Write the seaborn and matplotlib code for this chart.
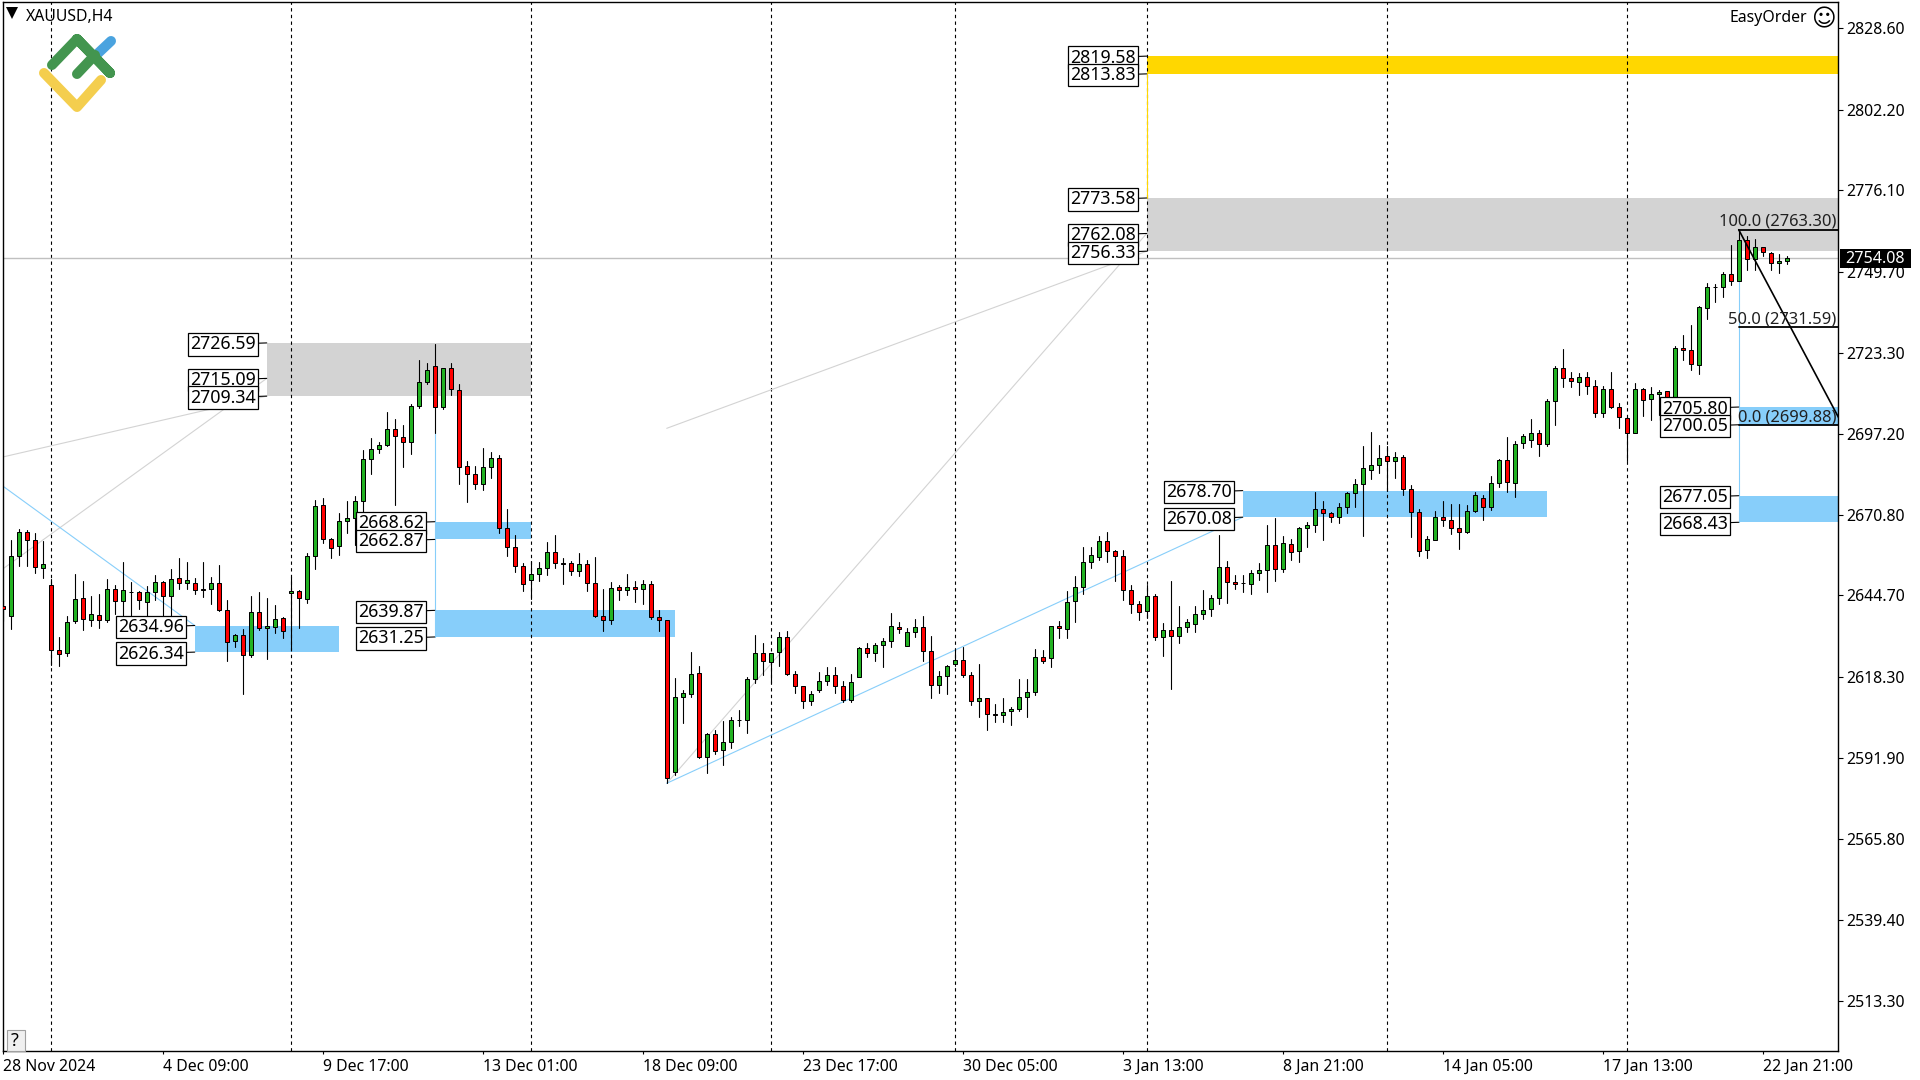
import matplotlib
matplotlib.use("Agg")
import matplotlib.pyplot as plt
import matplotlib.transforms as mtrans
import pandas as pd
import seaborn as sns
from matplotlib.patches import Rectangle

highs = [2643.3,2662.8,2666.3,2666.0,2665.0,2662.5,2650.1,2631.1,2637.9,2651.8,
2649.5,2644.4,2645.2,2650.2,2648.0,2655.6,2649.2,2646.3,2647.7,2651.5,
2649.4,2653.3,2656.9,2655.6,2650.4,2655.6,2650.7,2654.6,2643.3,2632.3,
2633.9,2644.6,2645.9,2643.9,2641.7,2637.7,2650.7,2646.5,2658.5,2675.5,
2676.4,2663.4,2671.5,2675.4,2677.1,2691.9,2695.6,2694.5,2704.3,2702.0,
2700.0,2706.8,2721.1,2720.1,2726.1,2718.5,2720.1,2713.3,2688.3,2686.7,
2692.5,2691.3,2690.2,2672.7,2664.3,2655.2,2655.9,2655.5,2662.1,2664.3,
2656.8,2655.9,2658.5,2656.2,2657.3,2646.8,2649.0,2648.1,2651.8,2649.4,
2649.7,2649.4,2640.0,2636.7,2617.9,2614.0,2626.4,2621.8,2600.1,2601.1,
2604.0,2605.3,2607.5,2618.2,2631.9,2629.3,2626.0,2632.8,2633.2,2620.2,
2615.3,2613.7,2619.9,2621.5,2621.5,2617.0,2619.2,2628.0,2629.3,2629.3,
2630.9,2639.0,2636.1,2634.1,2637.1,2638.0,2631.5,2620.2,2622.1,2627.3,
2628.0,2619.9,2622.5,2611.5,2609.5,2611.5,2608.6,2617.7,2617.7,2627.4,
2627.1,2634.8,2636.5,2646.2,2651.0,2660.5,2660.5,2664.0,2665.3,2659.5,
2659.5,2648.1,2643.0,2648.1,2645.2,2635.8,2649.4,2641.3,2637.1,2641.3,
2646.5,2644.9,2664.3,2655.9,2651.4,2651.4,2653.0,2655.3,2667.6,2669.9,
2664.0,2663.0,2666.9,2668.6,2678.3,2675.4,2671.8,2674.7,2678.3,2682.5,
2693.2,2697.7,2693.5,2693.2,2691.3,2690.3,2680.6,2672.8,2664.0,2672.1,
2675.3,2674.4,2674.4,2674.0,2678.2,2677.3,2683.4,2689.0,2696.1,2694.8,
2697.1,2701.9,2698.4,2708.4,2719.1,2724.6,2717.2,2716.8,2717.2,2714.6,
2712.6,2717.2,2707.1,2702.6,2713.6,2712.0,2712.3,2711.3,2711.0,2725.6,
2729.2,2732.4,2738.6,2746.0,2745.7,2749.6,2758.3,2763.3,2761.3,2760.3,
2757.7,2756.1,2755.4,2754.8]

lows = [2636.4,2633.8,2654.4,2654.4,2651.9,2650.3,2622.1,2621.8,2625.0,2635.8,
2633.4,2634.9,2634.1,2636.1,2638.7,2637.7,2636.0,2640.3,2637.7,2643.3,
2636.6,2637.7,2646.7,2646.7,2645.1,2644.1,2641.9,2639.7,2623.4,2627.9,
2612.7,2624.8,2633.6,2624.0,2632.5,2630.9,2627.1,2634.3,2642.3,2653.2,
2661.8,2656.8,2657.7,2665.1,2661.1,2669.0,2684.1,2690.8,2693.2,2674.0,
2686.3,2690.6,2705.5,2713.3,2697.3,2705.2,2709.6,2680.9,2675.0,2679.3,
2678.8,2682.9,2664.8,2657.4,2652.2,2646.0,2643.4,2649.3,2651.5,2653.5,
2648.3,2651.2,2650.9,2646.3,2637.8,2633.1,2635.6,2643.1,2644.7,2642.5,
2641.8,2637.1,2633.1,2583.8,2586.4,2603.2,2611.7,2591.9,2587.0,2593.2,
2589.6,2595.4,2602.3,2600.0,2616.2,2619.0,2616.2,2621.9,2618.9,2613.0,
2608.1,2609.1,2613.3,2615.7,2613.0,2610.2,2610.2,2618.2,2624.6,2623.4,
2621.4,2627.9,2632.5,2628.2,2631.2,2623.4,2611.4,2613.0,2612.6,2621.8,
2618.2,2609.1,2605.2,2601.1,2603.6,2603.6,2602.6,2607.3,2605.2,2612.4,
2622.8,2621.4,2630.8,2630.8,2636.0,2645.1,2653.5,2656.1,2655.5,2649.5,
2643.2,2639.0,2636.8,2637.4,2630.2,2625.0,2614.3,2629.2,2632.8,2632.8,
2637.0,2638.1,2641.9,2642.2,2646.7,2645.8,2645.1,2649.6,2645.8,2649.3,
2652.2,2656.2,2655.5,2660.3,2665.3,2662.7,2668.6,2668.2,2671.5,2673.3,
2664.0,2682.5,2684.3,2678.6,2682.9,2677.3,2663.6,2657.5,2656.8,2662.7,
2667.1,2664.6,2659.8,2665.0,2671.8,2669.1,2672.4,2679.8,2678.2,2676.6,
2692.5,2692.7,2689.9,2693.2,2700.0,2712.3,2712.3,2709.7,2710.0,2702.6,
2702.6,2705.5,2699.0,2688.3,2697.4,2702.9,2701.6,2703.2,2703.2,2702.9,
2721.0,2717.8,2716.5,2734.2,2739.7,2741.4,2745.4,2746.7,2750.2,2750.2,
2754.8,2750.2,2749.3,2752.2]

opens = [2641.4,2638.1,2657.5,2665.3,2662.7,2653.6,2648.1,2627.1,2626.1,2636.5,
2643.9,2636.8,2638.4,2636.8,2646.8,2643.0,2645.9,2645.9,2642.6,2645.9,
2649.1,2644.6,2650.4,2648.8,2648.8,2646.8,2646.8,2648.8,2640.0,2630.0,
2631.9,2625.4,2639.4,2634.2,2634.5,2637.4,2645.5,2646.2,2643.6,2657.5,
2674.1,2663.1,2660.8,2668.9,2669.9,2675.4,2689.0,2692.2,2693.5,2698.7,
2696.1,2694.5,2706.2,2714.0,2719.2,2705.9,2718.5,2711.4,2686.7,2684.0,
2680.8,2686.3,2689.3,2666.6,2660.4,2654.2,2649.7,2651.6,2653.6,2658.8,
2655.2,2655.2,2652.6,2654.9,2648.7,2638.0,2636.7,2647.4,2646.5,2647.4,
2646.8,2648.4,2637.7,2636.7,2587.4,2611.8,2612.7,2619.5,2592.3,2599.8,
2594.6,2597.2,2604.2,2604.3,2617.6,2626.0,2623.1,2626.4,2631.2,2619.2,
2615.3,2610.5,2614.0,2617.0,2618.9,2615.3,2610.8,2618.2,2627.6,2626.0,
2628.6,2629.9,2634.5,2628.3,2632.8,2634.5,2626.7,2615.7,2618.6,2622.5,
2623.8,2619.0,2610.5,2611.5,2606.3,2606.0,2607.3,2607.9,2611.8,2613.4,
2624.8,2624.5,2634.8,2633.9,2643.0,2647.5,2655.6,2657.2,2662.4,2659.2,
2657.5,2646.5,2642.0,2639.7,2644.6,2631.3,2633.5,2631.6,2634.5,2635.5,
2638.7,2640.3,2643.9,2654.0,2649.1,2648.7,2648.5,2652.0,2653.0,2661.1,
2653.3,2661.4,2659.2,2666.6,2667.6,2672.8,2671.5,2670.2,2673.4,2678.0,
2680.9,2685.4,2687.0,2690.0,2688.3,2689.6,2679.3,2671.8,2659.5,2662.7,
2670.1,2669.2,2666.6,2665.3,2672.1,2676.3,2673.4,2681.2,2688.6,2681.2,
2694.1,2695.1,2697.4,2693.8,2707.8,2718.5,2715.2,2713.9,2715.5,2712.6,
2703.9,2711.6,2705.8,2702.2,2697.4,2711.6,2708.4,2710.0,2711.0,2708.4,
2724.9,2724.3,2719.4,2737.9,2744.6,2744.7,2748.9,2746.7,2760.0,2753.8,
2757.7,2755.7,2752.5,2753.1]

closes = [2640.3,2657.5,2665.3,2662.7,2654.0,2655.0,2627.1,2625.7,2636.1,2643.6,
2637.1,2638.7,2636.8,2646.8,2643.0,2646.5,2645.8,2643.3,2645.9,2649.1,
2644.6,2650.1,2648.8,2649.8,2646.5,2646.6,2648.8,2640.0,2629.7,2631.9,
2625.4,2639.4,2634.2,2634.9,2637.1,2633.2,2646.2,2643.9,2657.5,2673.8,
2663.1,2660.0,2668.9,2669.9,2675.4,2689.0,2692.2,2693.5,2698.7,2696.5,
2694.5,2706.2,2714.0,2717.9,2705.9,2718.5,2711.7,2686.4,2684.1,2680.9,
2686.3,2689.3,2666.6,2660.4,2654.2,2648.4,2651.6,2653.6,2658.8,2655.2,
2654.9,2652.6,2654.9,2648.7,2638.0,2636.7,2647.1,2646.5,2647.4,2646.8,
2648.4,2637.7,2636.7,2585.5,2611.8,2613.1,2619.2,2592.2,2599.8,2594.3,
2597.2,2604.3,2604.3,2617.6,2626.0,2623.4,2626.0,2631.2,2619.2,2615.3,
2610.5,2612.7,2617.0,2618.9,2615.3,2610.8,2616.6,2627.6,2626.0,2628.6,
2629.9,2634.8,2633.8,2632.8,2634.5,2626.7,2615.7,2618.6,2621.8,2623.8,
2619.0,2610.5,2611.5,2606.3,2606.0,2607.0,2607.9,2611.8,2613.4,2624.8,
2623.5,2634.8,2634.2,2642.6,2647.5,2655.6,2657.9,2662.4,2659.2,2657.5,
2646.5,2642.0,2639.4,2644.6,2631.3,2633.5,2631.6,2634.5,2636.1,2638.7,
2640.0,2643.9,2654.0,2649.1,2648.3,2648.8,2652.0,2653.0,2661.1,2653.3,
2661.7,2658.8,2666.6,2667.6,2672.8,2671.5,2670.2,2673.4,2678.0,2680.9,
2686.1,2687.0,2689.3,2688.3,2689.6,2679.3,2671.8,2659.2,2663.0,2670.2,
2669.2,2666.6,2665.3,2672.1,2677.3,2673.4,2681.2,2688.6,2681.5,2693.8,
2696.4,2697.4,2693.8,2707.8,2718.5,2715.2,2714.2,2715.5,2712.6,2703.9,
2711.6,2705.8,2702.6,2697.4,2711.6,2708.1,2710.0,2710.7,2707.8,2724.9,
2724.2,2719.8,2738.2,2744.7,2744.7,2748.9,2746.7,2760.0,2753.8,2757.7,
2756.1,2752.5,2753.1,2754.08]

y_ticks = [2828.60, 2802.20, 2776.10, 2749.70, 2723.30, 2697.20, 2670.80,
           2644.70, 2618.30, 2591.90, 2565.80, 2539.40, 2513.30]
date_labels = ["28 Nov 2024", "4 Dec 09:00", "9 Dec 17:00", "13 Dec 01:00", "18 Dec 09:00",
               "23 Dec 17:00", "30 Dec 05:00", "3 Jan 13:00", "8 Jan 21:00", "14 Jan 05:00",
               "17 Jan 13:00", "22 Jan 21:00"]
separators = [6, 36, 66, 96, 119, 143, 173, 203]
last_price = 2754.08

# zones: start bar, end bar, top, bottom, colour
zone_start = [24, 54, 54, 155, 217, 217, 33, 143, 143]
zone_end = [42, 66, 84, 193, 230, 230, 66, 230, 230]
zone_top = [2634.96, 2668.62, 2639.87, 2678.70, 2705.80, 2677.05, 2726.59, 2773.58, 2819.58]
zone_bottom = [2626.34, 2662.87, 2631.25, 2670.08, 2700.05, 2668.43, 2709.34, 2756.33, 2813.83]
zone_color = ["#87CEFA"] * 6 + ["#D3D3D3", "#D3D3D3", "#FFD700"]

# boxed price labels next to the zones
label_bar = [24, 24, 54, 54, 54, 54, 155, 155, 217, 217, 217, 217, 33, 33, 33, 143, 143, 143, 143, 143]
label_price = [2634.96, 2626.34, 2668.62, 2662.87, 2639.87, 2631.25, 2678.70, 2670.08,
               2705.80, 2700.05, 2677.05, 2668.43, 2726.59, 2715.09, 2709.34,
               2819.58, 2813.83, 2773.58, 2762.08, 2756.33]

fib_bar = 217
fib_levels = [2763.30, 2731.59, 2699.88]
fib_names = ["100.0", "50.0", "0.0"]

plt.rcParams["figure.dpi"] = 100
sns.set_style("white")
plt.rcParams["font.family"] = ["Noto Sans", "DejaVu Sans"]

df = pd.DataFrame({"bar": range(len(opens)), "open": opens, "high": highs, "low": lows, "close": closes})
df["height"] = (df["close"] - df["open"]).abs()
df["body_bottom"] = df[["open", "close"]].min(axis=1)
wicks = df.melt(id_vars="bar", value_vars=["high", "low"], value_name="price")

fig = plt.figure(figsize=(19.2, 10.8), facecolor="white")
ax = fig.add_axes([2.5 / 1920, 29 / 1080, 1835.8 / 1920, 1049 / 1080])

for s, e, t, b, c in zip(zone_start, zone_end, zone_top, zone_bottom, zone_color):
    ax.add_patch(Rectangle((s, b), e - s, t - b, facecolor=c, edgecolor="none", zorder=1))

for sep in separators:
    ax.axvline(sep, color="black", lw=0.8, dashes=(3, 3), zorder=1.5)

# trend lines
ax.plot([0, 33], [2689.6, 2709.34], color="#D3D3D3", lw=0.8, zorder=1.7)
ax.plot([0, 33], [2653.3, 2715.09], color="#D3D3D3", lw=0.8, zorder=1.7)
ax.plot([83, 143], [2698.9, 2756.33], color="#D3D3D3", lw=0.8, zorder=1.7)
ax.plot([83, 143], [2583.8, 2762.08], color="#D3D3D3", lw=0.8, zorder=1.7)
ax.plot([0, 24], [2680.2, 2634.96], color="#87CEFA", lw=0.8, zorder=1.7)
ax.plot([83, 155], [2583.8, 2670.08], color="#87CEFA", lw=0.8, zorder=1.7)
ax.plot([54, 54], [2697.3, 2631.25], color="#87CEFA", lw=0.8, zorder=1.7)
ax.plot([217, 217], [2746.7, 2668.43], color="#87CEFA", lw=0.8, zorder=1.7)
ax.plot([143, 143], [2813.83, 2773.58], color="#FFD700", lw=0.8, zorder=1.7)
ax.axhline(last_price, color="#C0C0C0", lw=1, zorder=1.8)

sns.lineplot(data=wicks, x="bar", y="price", units="bar", estimator=None, color="black",
             linewidth=0.8, legend=False, ax=ax, zorder=2)
up = df[df["close"] >= df["open"]]
down = df[df["close"] < df["open"]]
sns.barplot(data=up, x="bar", y="height", bottom=up["body_bottom"].values, native_scale=True,
            width=0.5, color="#22B222", saturation=1, edgecolor="black", linewidth=0.72,
            errorbar=None, ax=ax, zorder=3)
sns.barplot(data=down, x="bar", y="height", bottom=down["body_bottom"].values, native_scale=True,
            width=0.5, color="#FF0000", saturation=1, edgecolor="black", linewidth=0.72,
            errorbar=None, ax=ax, zorder=3)

# fibo
ax.plot([fib_bar, 230], [fib_levels[0], fib_levels[2]], color="black", lw=1.2, zorder=4)
for level, name in zip(fib_levels, fib_names):
    ax.plot([fib_bar, 230], [level, level], color="black", lw=1.3, zorder=4)
    ax.annotate(f"{name} ({level:.2f})", xy=(1, level), xycoords=("axes fraction", "data"),
                xytext=(-2, 4), textcoords="offset pixels", ha="right", va="baseline",
                fontsize=11.9, color="#202020", zorder=6)

for bar, price in zip(label_bar, label_price):
    ax.annotate(f"{price:.2f}", xy=(bar, price), xytext=(-11, -1.5), textcoords="offset pixels",
                ha="right", va="center", fontsize=12.8, color="black", zorder=5,
                arrowprops=dict(arrowstyle="-", color="black", lw=0.8, shrinkA=0, shrinkB=0),
                bbox=dict(boxstyle="square,pad=0.12", fc="white", ec="black", lw=0.9))

ax.set_xlim(-0.03, 229.45)
ax.set_ylim(2497.0, 2837.13)
ax.set_xlabel("")
ax.set_ylabel("")
ax.yaxis.tick_right()
ax.set_yticks(y_ticks)
ax.set_yticklabels([f"{t:.2f}" for t in y_ticks], fontsize=11.4)
ax.set_xticks(range(0, 221, 20))
ax.set_xticklabels(date_labels, fontsize=11.4, ha="left")
shift = mtrans.ScaledTranslation(-2 / 100, 0, fig.dpi_scale_trans)
for lab in ax.get_xticklabels():
    lab.set_transform(lab.get_transform() + shift)
ax.tick_params(axis="y", right=True, length=3.5, width=0.8, pad=2, color="black", labelcolor="black")
ax.tick_params(axis="x", bottom=True, length=2.5, width=0.8, pad=3, color="black", labelcolor="black")
for sp in ax.spines.values():
    sp.set_visible(True)
    sp.set_color("black")
    sp.set_linewidth(1)

# overlay in screen pixels for logo, title and terminal widgets
ov = fig.add_axes([0, 0, 1, 1], zorder=10)
ov.set_xlim(0, 1920)
ov.set_ylim(1080, 0)
ov.axis("off")
ov.patch.set_alpha(0)

ov.plot([11.5], [12.5], marker="v", ms=8.5, color="black", mew=0)
ov.text(26, 17, "XAUUSD,H4", fontsize=11.4, va="center", ha="left", color="black")
ov.text(1807, 18, "EasyOrder", fontsize=11.4, va="center", ha="right", color="black")
ov.text(1823, 19, "\u263A", fontsize=17, va="center", ha="center", color="black", family="DejaVu Sans")

ov.plot([93, 111], [58, 41], color="#4AA3DF", lw=7.2, solid_capstyle="round")
ov.plot([52, 77, 110, 77], [65, 39, 73, 39], color="#43954F", lw=7.2, solid_capstyle="round", solid_joinstyle="round")
ov.plot([77, 95], [74, 55], color="#43954F", lw=7.2, solid_capstyle="round")
ov.plot([44, 77, 101], [73, 107, 80], color="#F4CE4E", lw=7.2, solid_capstyle="round", solid_joinstyle="round")

ov.add_patch(Rectangle((6.5, 1030), 18, 20.5, facecolor="#F0F0F0", edgecolor="#A0A0A0", lw=0.8))
ov.text(15, 1041, "?", fontsize=13, ha="center", va="center", color="black")

ov.add_patch(Rectangle((1840, 249), 71, 19, facecolor="black", edgecolor="none"))
ov.text(1875.5, 259, f"{last_price:.2f}", fontsize=11.6, ha="center", va="center", color="white")

fig.savefig("out.png", dpi=100)
